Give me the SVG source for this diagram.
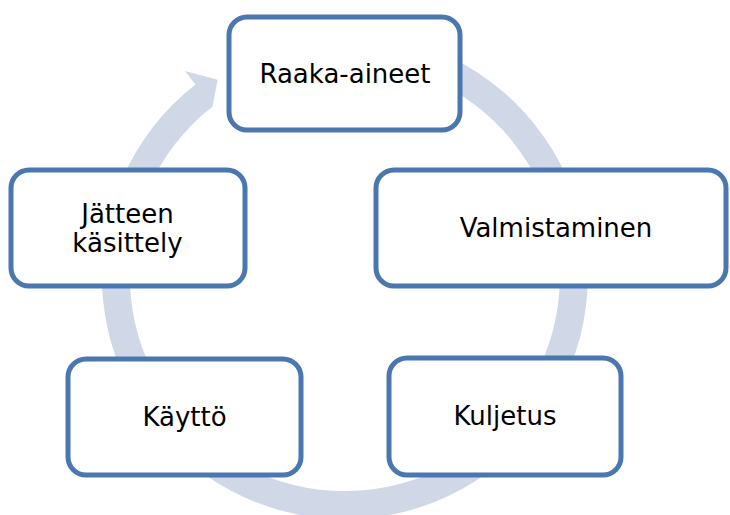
<svg xmlns="http://www.w3.org/2000/svg" width="730" height="515" viewBox="0 0 730 515">
  <style>
    .box { fill: #FFFFFF; stroke: #4A77B0; stroke-width: 5; }
    .lbl { font-family: "DejaVu Sans", "Liberation Sans", sans-serif; font-size: 26px; fill: #000000; text-anchor: middle; }
    .cyc { fill: #D0D8E8; stroke: none; }
  </style>
  <rect width="730" height="515" fill="#FFFFFF"/>
  <g id="connectors">
    <path class="cyc" d="M 261.9 47.7 A 243 243 0 1 1 195.4 84.5 L 184.9 71.1 L 217.6 79.8 L 212.6 106.6 A 215 215 0 1 0 271.5 74.0 Z"/>
  </g>
  <g id="node-raaka-aineet">
    <rect class="box" x="229" y="17" width="231" height="113" rx="18" ry="18"/>
    <text class="lbl" x="345" y="83">Raaka-aineet</text>
  </g>
  <g id="node-valmistaminen">
    <rect class="box" x="376" y="170" width="350" height="116" rx="18" ry="18"/>
    <text class="lbl" x="556" y="237">Valmistaminen</text>
  </g>
  <g id="node-kuljetus">
    <rect class="box" x="389" y="358" width="232" height="117" rx="18" ry="18"/>
    <text class="lbl" x="505" y="425">Kuljetus</text>
  </g>
  <g id="node-kaytto">
    <rect class="box" x="68" y="359" width="233" height="116" rx="18" ry="18"/>
    <text class="lbl" x="184.5" y="426">Käyttö</text>
  </g>
  <g id="node-jatteen-kasittely">
    <rect class="box" x="11" y="170" width="234" height="116" rx="18" ry="18"/>
    <text class="lbl" x="127.5" y="223">Jätteen</text>
    <text class="lbl" x="127.5" y="252">käsittely</text>
  </g>
</svg>
